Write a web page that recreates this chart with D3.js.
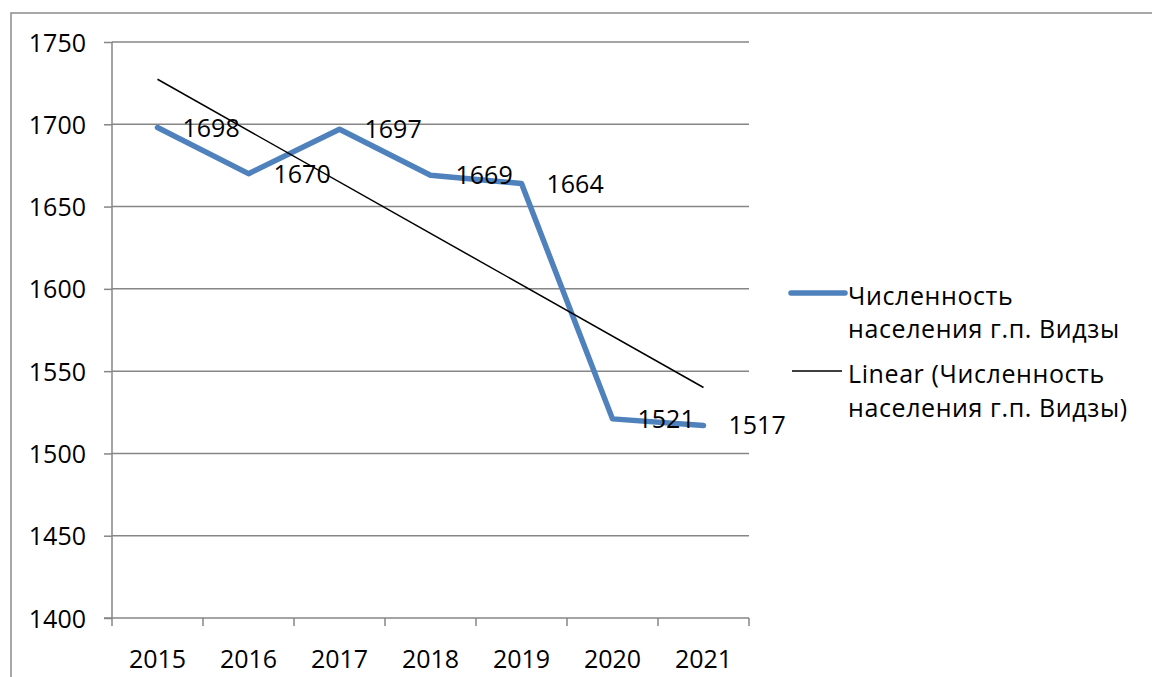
<!DOCTYPE html>
<html>
<head>
<meta charset="utf-8">
<script src="https://cdn.jsdelivr.net/npm/d3@7"></script>
<style>
  body { margin: 0; background: #fff; }
  svg text { font-family: "Open Sans", sans-serif; fill: #000; }
</style>
</head>
<body>
<script>
// chart data
var years = ["2015", "2016", "2017", "2018", "2019", "2020", "2021"];
var population = [1698, 1670, 1697, 1669, 1664, 1521, 1517];
var yTicks = [1400, 1450, 1500, 1550, 1600, 1650, 1700, 1750];
var seriesName = ["Численность", "населения г.п. Видзы"];
var trendName = ["Linear (Численность", "населения г.п. Видзы)"];

var W = 1152, H = 677;
var fontSize = 25;

var svg = d3.select("body").append("svg")
    .attr("width", W)
    .attr("height", H);

// outer frame (right and bottom run off the page)
svg.append("rect")
    .attr("x", 11).attr("y", 13)
    .attr("width", W + 20).attr("height", H + 20)
    .attr("fill", "none")
    .attr("stroke", "#8c8c8c")
    .attr("stroke-width", 1.5);

// set the ranges
var x = d3.scaleBand().domain(years).range([112, 749]).padding(0);
var y = d3.scaleLinear().domain([1400, 1750]).range([618, 42]);

// y ticks + labels
var yAxis = svg.append("g")
    .attr("transform", "translate(112,0)")
    .call(d3.axisLeft(y).tickValues(yTicks).tickSize(8).tickPadding(18).tickFormat(d3.format("d")));
yAxis.select(".domain").remove();
yAxis.selectAll("line").attr("stroke", "#868686").attr("stroke-width", 1.5);
yAxis.selectAll("text").style("font-size", fontSize + "px").attr("dy", "0.36em");

// gridlines
svg.append("g").selectAll("line")
    .data(yTicks.slice(1))
    .enter().append("line")
    .attr("x1", 112).attr("x2", 749)
    .attr("y1", function(d) { return y(d); })
    .attr("y2", function(d) { return y(d); })
    .attr("stroke", "#868686")
    .attr("stroke-width", 1.5);

// y axis line
svg.append("line")
    .attr("x1", 112).attr("x2", 112)
    .attr("y1", y(1750)).attr("y2", y(1400))
    .attr("stroke", "#868686").attr("stroke-width", 1.5);

// x axis
var xAxis = svg.append("g")
    .attr("transform", "translate(0," + y(1400) + ")")
    .call(d3.axisBottom(x).tickSize(0).tickPadding(32));
xAxis.select(".domain").remove();
xAxis.selectAll("text").style("font-size", fontSize + "px");

svg.append("line")
    .attr("x1", 104).attr("x2", 749)
    .attr("y1", y(1400)).attr("y2", y(1400))
    .attr("stroke", "#868686").attr("stroke-width", 1.5);

var edges = years.map(function(d) { return x(d); }).concat([x.range()[1]]);
svg.append("g").selectAll("line")
    .data(edges)
    .enter().append("line")
    .attr("x1", function(d) { return d; })
    .attr("x2", function(d) { return d; })
    .attr("y1", y(1400))
    .attr("y2", y(1400) + 8)
    .attr("stroke", "#868686")
    .attr("stroke-width", 1.5);

function cx(i) { return x(years[i]) + x.bandwidth() / 2; }

// linear trend (least squares over the series)
var n = population.length;
var mx = d3.mean(d3.range(n));
var my = d3.mean(population);
var slope = d3.sum(population, function(v, i) { return (i - mx) * (v - my); }) /
            d3.sum(d3.range(n), function(i) { return (i - mx) * (i - mx); });
var trend = [0, n - 1].map(function(i) { return [i, my + slope * (i - mx)]; });

// the series line
var valueline = d3.line()
    .x(function(d, i) { return cx(i); })
    .y(function(d) { return y(d); });

svg.append("path")
    .datum(population)
    .attr("d", valueline)
    .attr("fill", "none")
    .attr("stroke", "#4f81bd")
    .attr("stroke-width", 5.5)
    .attr("stroke-linejoin", "round")
    .attr("stroke-linecap", "round");

svg.append("path")
    .datum(trend)
    .attr("d", d3.line()
        .x(function(d) { return cx(d[0]); })
        .y(function(d) { return y(d[1]); }))
    .attr("fill", "none")
    .attr("stroke", "#000")
    .attr("stroke-width", 1.5);

// data labels
svg.append("g").selectAll("text")
    .data(population)
    .enter().append("text")
    .attr("x", function(d, i) { return cx(i) + 25; })
    .attr("y", function(d) { return y(d); })
    .attr("dy", "0.36em")
    .style("font-size", fontSize + "px")
    .text(function(d) { return d; });

// legend
var legend = svg.append("g");
legend.append("line")
    .attr("x1", 791).attr("x2", 845)
    .attr("y1", 293).attr("y2", 293)
    .attr("stroke", "#4f81bd").attr("stroke-width", 5.5)
    .attr("stroke-linecap", "round");
legend.append("line")
    .attr("x1", 792).attr("x2", 842)
    .attr("y1", 371).attr("y2", 371)
    .attr("stroke", "#000").attr("stroke-width", 1.5);

legend.append("g").selectAll("text")
    .data(seriesName)
    .enter().append("text")
    .attr("x", 848)
    .attr("y", function(d, i) { return 305 + i * 33; })
    .style("font-size", fontSize + "px")
    .style("letter-spacing", "0.6px")
    .text(function(d) { return d; });

legend.append("g").selectAll("text")
    .data(trendName)
    .enter().append("text")
    .attr("x", 848)
    .attr("y", function(d, i) { return 383 + i * 34; })
    .style("font-size", fontSize + "px")
    .style("letter-spacing", "0.6px")
    .text(function(d) { return d; });
</script>
</body>
</html>
